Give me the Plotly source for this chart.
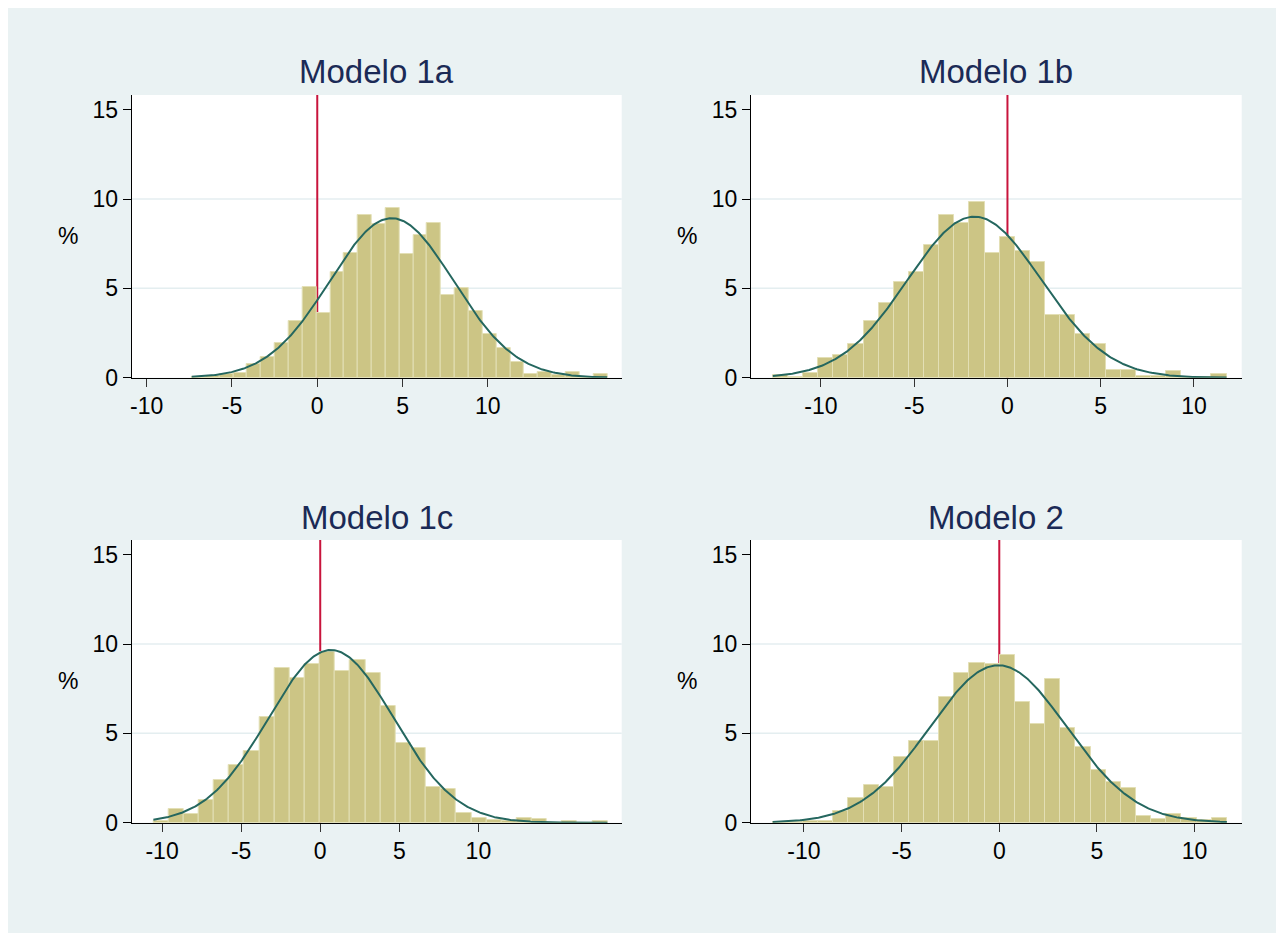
import numpy as np
import plotly.graph_objects as go

# ---------------- data ----------------
titles = ["Modelo 1a", "Modelo 1b", "Modelo 1c", "Modelo 2"]
x_tick_vals = [-10, -5, 0, 5, 10]
x_tick_text = ["-10", "-5", "0", "5", "10"]
y_tick_vals = [0, 5, 10, 15]
y_tick_text = ["0", "5", "10", "15"]
grid_vals = [5, 10]
ref_value = 0

# histogram heights (%), 30 bins each
heights_1a = [0.05, 0.08, 0.22, 0.26, 0.78, 1.16, 1.96, 3.2, 5.07, 3.6,
              5.9, 7.0, 9.1, 8.6, 9.47, 6.93, 8.0, 8.65, 4.63, 5.0,
              3.75, 2.43, 1.68, 0.88, 0.19, 0.32, 0.13, 0.34, 0.04, 0.22]
heights_1b = [0.15, 0.05, 0.25, 1.1, 1.25, 1.9, 3.2, 4.18, 5.36, 5.92,
              7.45, 9.12, 8.63, 9.81, 6.98, 7.85, 7.1, 6.46, 3.52, 3.52,
              2.43, 1.9, 0.43, 0.43, 0.1, 0.1, 0.36, 0.05, 0.05, 0.19]
heights_1c = [0.1, 0.75, 0.5, 1.29, 2.37, 3.22, 4.0, 5.92, 8.67, 8.11,
              8.86, 9.55, 8.48, 9.12, 8.39, 6.55, 4.46, 4.18, 2.0, 1.9,
              0.54, 0.28, 0.13, 0.07, 0.28, 0.19, 0.0, 0.07, 0.0, 0.07]
heights_2 = [0.05, 0.05, 0.1, 0.1, 0.64, 1.37, 2.12, 2.0, 3.67, 4.57,
             4.57, 7.04, 8.39, 8.95, 8.9, 9.4, 6.74, 5.54, 8.03, 5.3,
             4.23, 2.94, 2.28, 1.93, 0.37, 0.19, 0.47, 0.25, 0.15, 0.28]

bin_start = [-7.36, -12.58, -10.55, -11.60]
bin_width = [0.812, 0.811, 0.957, 0.775]

# fitted normal curves
norm_mean = [4.36, -1.77, 0.68, -0.05]
norm_sd = [3.63, 3.59, 3.95, 3.51]

x_ranges = [[-10.88, 17.85], [-13.75, 12.56], [-11.92, 19.06], [-12.71, 12.41]]
y_range = [0, 15.82]

all_heights = [heights_1a, heights_1b, heights_1c, heights_2]

# ---------------- layout geometry ----------------
OFF = 8
W, H = 1276, 925
boxes = [(131.7, 621.7, 95, 377.7), (751, 1241.7, 95, 377.7),
         (131.7, 621.7, 540, 822.7), (751, 1241.7, 540, 822.7)]

def fx(p):
    return (p - OFF) / W

def fy(p):
    return 1 - (p - OFF) / H

BG = "#EAF2F3"
BAR_FILL = "#CCC585"
BAR_LINE = "#E3DFB5"
CURVE = "#25675F"
RED = "#C8143C"
GRID = "#E4EEF0"
TITLE_C = "#1B2A56"
FONT = "Liberation Sans, Arial, Helvetica, sans-serif"
TICK_SIZE = 23

fig = go.Figure()
layout = dict(
    width=W, height=H, margin=dict(l=0, r=0, t=0, b=0, autoexpand=False),
    paper_bgcolor=BG, plot_bgcolor="white", showlegend=False,
    bargap=0, barmode="overlay", font=dict(family=FONT, color="black"),
)
shapes = []
annotations = []

for i in range(4):
    s = "" if i == 0 else str(i + 1)
    h = all_heights[i]
    n = len(h)
    w = bin_width[i]
    centers = [bin_start[i] + w * (k + 0.5) for k in range(n)]
    fig.add_trace(go.Bar(
        x=centers, y=h, width=w,
        marker=dict(color=BAR_FILL, line=dict(color=BAR_LINE, width=1)),
        xaxis="x" + s, yaxis="y" + s, hoverinfo="x+y",
    ))
    xs = np.linspace(bin_start[i], bin_start[i] + w * n, 400)
    ys = 100 * w / (norm_sd[i] * np.sqrt(2 * np.pi)) * np.exp(-0.5 * ((xs - norm_mean[i]) / norm_sd[i]) ** 2)
    fig.add_trace(go.Scatter(
        x=xs, y=ys, mode="lines", line=dict(color=CURVE, width=2),
        xaxis="x" + s, yaxis="y" + s, hoverinfo="skip",
    ))

    x0, x1, y0, y1 = boxes[i]
    layout["xaxis" + s] = dict(
        domain=[fx(x0), fx(x1)], anchor="y" + s, range=x_ranges[i],
        tickmode="array", tickvals=x_tick_vals, ticktext=x_tick_text,
        ticks="outside", ticklen=8, tickwidth=1.2, tickcolor="#333333",
        showline=True, linecolor="black", linewidth=1.2,
        showgrid=False, zeroline=False, automargin=False,
        tickfont=dict(size=TICK_SIZE, color="black", family=FONT),
    )
    layout["yaxis" + s] = dict(
        domain=[fy(y1), fy(y0)], anchor="x" + s, range=y_range,
        tickmode="array", tickvals=y_tick_vals, ticktext=y_tick_text,
        ticks="outside", ticklen=8, tickwidth=1.2, tickcolor="black",
        showline=True, linecolor="black", linewidth=1.2,
        showgrid=False, zeroline=False, automargin=False,
        tickfont=dict(size=TICK_SIZE, color="black", family=FONT),
    )
    for g in grid_vals:
        shapes.append(dict(type="line", xref="x" + s + " domain", x0=0, x1=1,
                           yref="y" + s, y0=g, y1=g,
                           line=dict(color=GRID, width=1.5), layer="below"))
    # reference line, below the bars
    shapes.append(dict(type="line", xref="x" + s, x0=ref_value, x1=ref_value,
                       yref="y" + s + " domain", y0=0, y1=1,
                       line=dict(color=RED, width=2), layer="below"))
    annotations.append(dict(
        text=titles[i], xref="paper", yref="paper",
        x=fx((x0 + x1) / 2), y=fy(y0 - 23), xanchor="center", yanchor="middle",
        showarrow=False, font=dict(size=33, color=TITLE_C, family=FONT),
    ))
    annotations.append(dict(
        text="%", xref="paper", yref="paper",
        x=fx(x0 - 64), y=fy((y0 + y1) / 2), xanchor="center", yanchor="middle",
        showarrow=False, font=dict(size=TICK_SIZE, color="black", family=FONT),
    ))

layout["shapes"] = shapes
layout["annotations"] = annotations
fig.update_layout(**layout)
fig.write_html("out.html")
